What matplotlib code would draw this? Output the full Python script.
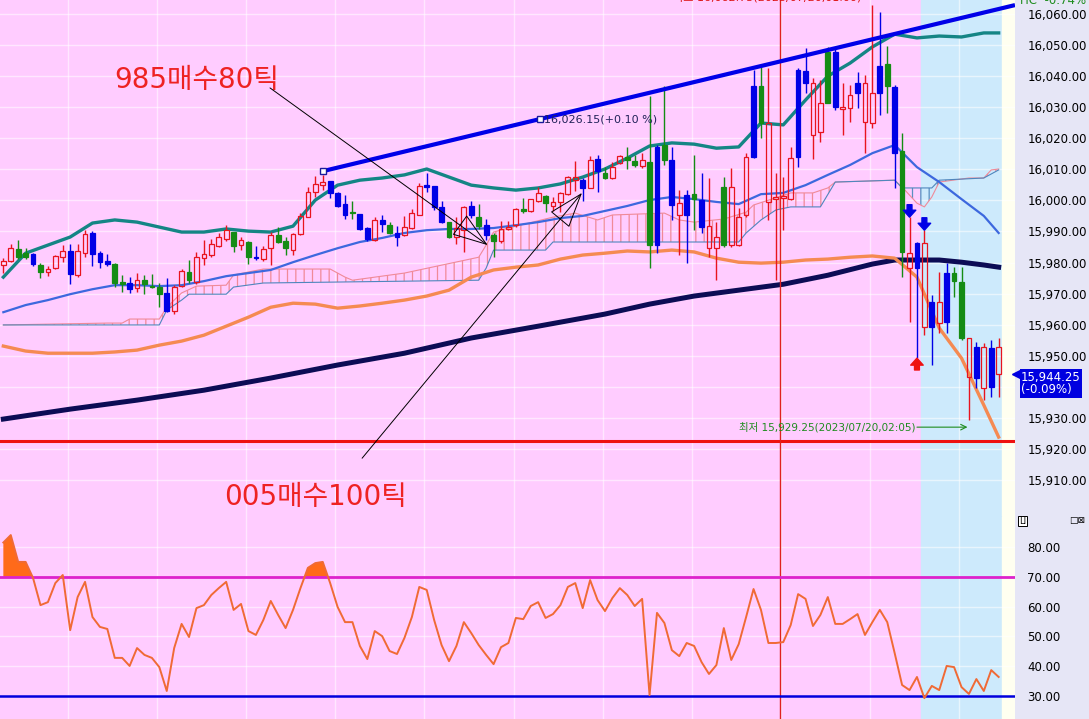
import matplotlib
matplotlib.use('Agg')
import matplotlib.pyplot as plt
from matplotlib.transforms import blended_transform_factory
import numpy as np

plt.rcParams['font.family'] = ['DejaVu Sans', 'Noto Sans CJK KR']
plt.rcParams['hatch.linewidth'] = 0.9

# ---- candles (o, h, l, c) ----
opens = [15979.2, 15980.5, 15984.3, 15983.0, 15982.7, 15979.2, 15976.9, 15978.2, 15981.7, 15983.7,
         15976.0, 15983.0, 15989.5, 15983.0, 15980.5, 15979.5, 15973.7, 15973.4, 15971.8, 15974.3,
         15972.4, 15972.1, 15970.2, 15964.4, 15972.4, 15976.9, 15973.7, 15981.4, 15982.4, 15985.3,
         15987.5, 15989.8, 15985.6, 15986.6, 15981.6, 15981.1, 15984.6, 15988.8, 15986.9, 15984.0,
         15989.2, 15994.6, 16002.7, 16004.9, 16006.2, 16002.4, 15998.8, 15996.2, 15995.6, 15991.1,
         15987.2, 15993.7, 15992.0, 15989.5, 15988.8, 15991.1, 15995.3, 16004.9, 16004.6, 15997.9,
         15993.0, 15988.2, 15990.4, 15998.2, 15994.6, 15992.0, 15988.8, 15986.9, 15990.8, 15992.0,
         15997.2, 15996.6, 15999.8, 16001.4, 15998.2, 15999.5, 16002.0, 16006.5, 16006.5, 16004.0,
         16013.3, 16008.8, 16007.2, 16012.0, 16014.0, 16012.7, 16011.0, 16012.3, 15985.6, 16017.8,
         16013.0, 15999.1, 15995.3, 16002.0, 16000.1, 15991.7, 15984.6, 15985.6, 16004.3, 15985.6,
         15995.3, 16014.0, 16036.8, 16024.9, 16000.6, 16000.9, 16000.4, 16014.0, 16041.6, 16037.8,
         16022.0, 16031.3, 16047.8, 16030.0, 16029.7, 16034.6, 16037.8, 16024.9, 16034.6, 16043.9,
         16036.5, 16015.9, 15983.0, 15978.2, 15986.3, 15959.2, 15967.3, 15960.8, 15976.6, 15973.7,
         15955.7, 15942.8, 15952.8, 15939.9, 15952.8]
highs = [15981.4, 15985.9, 15987.2, 15984.6, 15983.0, 15979.8, 15978.9, 15982.4, 15985.6, 15985.9,
         15985.9, 15990.4, 15990.1, 15983.7, 15982.7, 15979.8, 15976.0, 15975.3, 15976.6, 15976.0,
         15976.3, 15973.4, 15975.0, 15972.7, 15977.9, 15980.8, 15983.4, 15987.2, 15987.5, 15989.5,
         15992.0, 15989.8, 15988.2, 15986.9, 15985.3, 15985.3, 15989.8, 15991.4, 15988.2, 15989.5,
         15995.9, 16004.3, 16007.8, 16008.1, 16006.2, 16002.7, 16001.7, 15999.8, 15995.6, 15991.4,
         15994.6, 15995.3, 15993.0, 15991.7, 15995.0, 15997.2, 16005.6, 16008.8, 16004.6, 15999.8,
         15993.0, 15994.6, 15998.2, 15999.8, 15998.8, 15994.0, 15989.5, 15993.3, 15993.3, 15997.5,
         16000.7, 16000.4, 16004.3, 16001.7, 16001.1, 16002.7, 16007.8, 16012.7, 16007.2, 16014.3,
         16014.6, 16010.7, 16012.3, 16014.6, 16017.2, 16014.6, 16015.2, 16033.6, 16017.8, 16036.8,
         16017.2, 16003.3, 16003.3, 16014.6, 16008.8, 16007.2, 15993.0, 16007.5, 16010.4, 15997.5,
         16015.2, 16042.0, 16042.9, 16042.6, 16008.8, 16007.5, 16017.2, 16042.6, 16049.0, 16039.4,
         16038.7, 16049.4, 16049.4, 16037.8, 16037.1, 16041.3, 16040.4, 16062.75, 16060.6, 16049.7,
         16037.1, 16021.7, 15994.6, 15986.6, 15990.4, 15969.5, 15976.9, 15979.8, 15978.5, 15978.5,
         15955.7, 15954.4, 15954.1, 15955.0, 15955.7]
lows = [15976.6, 15980.1, 15981.1, 15981.1, 15978.9, 15975.0, 15975.6, 15977.9, 15980.1, 15973.0,
        15975.3, 15981.7, 15978.9, 15978.2, 15978.9, 15972.1, 15970.5, 15970.2, 15970.5, 15969.8,
        15971.8, 15965.6, 15964.0, 15963.4, 15972.1, 15973.4, 15973.0, 15979.2, 15981.7, 15985.0,
        15986.9, 15983.4, 15984.0, 15979.5, 15980.8, 15980.5, 15979.2, 15986.3, 15982.4, 15982.4,
        15988.8, 15994.6, 16001.1, 16003.3, 16000.7, 15997.9, 15994.0, 15994.0, 15990.4, 15986.9,
        15986.9, 15989.8, 15989.2, 15985.3, 15988.5, 15990.8, 15995.3, 16002.7, 15996.9, 15992.7,
        15987.9, 15985.9, 15983.4, 15994.3, 15990.8, 15987.2, 15981.7, 15986.3, 15990.4, 15991.4,
        15995.9, 15996.2, 15999.5, 15996.2, 15996.6, 15996.2, 16001.7, 16003.0, 15999.8, 16004.0,
        16002.7, 16006.9, 16006.9, 16011.7, 16010.1, 16010.7, 16010.4, 15978.2, 15983.0, 16011.4,
        15993.7, 15982.4, 15979.8, 15990.4, 15989.5, 15981.7, 15974.3, 15985.0, 15985.0, 15985.3,
        15994.6, 16013.6, 16020.1, 15993.7, 15974.3, 15990.4, 16000.1, 16010.7, 16034.6, 16013.3,
        16018.8, 16031.3, 16029.1, 16021.0, 16025.2, 16029.7, 16015.2, 16023.3, 16027.5, 16028.1,
        16004.0, 15975.3, 15960.8, 15949.2, 15956.6, 15947.0, 15957.3, 15957.3, 15968.9, 15955.0,
        15929.25, 15939.6, 15935.7, 15936.7, 15936.7]
closes = [15980.5, 15984.6, 15981.7, 15981.7, 15979.5, 15976.9, 15977.9, 15982.1, 15983.7, 15976.3,
          15983.7, 15989.2, 15982.7, 15980.1, 15979.5, 15973.4, 15973.0, 15971.4, 15974.3, 15973.0,
          15972.1, 15969.8, 15964.4, 15972.1, 15977.2, 15974.3, 15981.7, 15982.7, 15985.9, 15988.2,
          15990.4, 15985.3, 15987.2, 15981.7, 15981.3, 15984.3, 15988.8, 15986.6, 15984.6, 15989.2,
          15994.9, 16002.7, 16005.3, 16005.9, 16002.4, 15998.2, 15995.3, 15995.9, 15990.8, 15987.5,
          15993.7, 15992.4, 15989.5, 15988.2, 15991.4, 15995.9, 16004.6, 16004.3, 15997.9, 15993.0,
          15988.2, 15991.1, 15997.9, 15995.3, 15991.7, 15988.8, 15986.9, 15990.8, 15991.4, 15997.2,
          15996.6, 16000.4, 16002.4, 15999.1, 15999.5, 16002.4, 16007.5, 16007.5, 16004.0, 16013.0,
          16009.4, 16007.2, 16010.7, 16014.3, 16013.0, 16011.4, 16013.0, 15985.6, 16017.2, 16013.0,
          15998.5, 15995.3, 16001.7, 16000.4, 15991.4, 15984.6, 15988.2, 16004.3, 15985.6, 15994.6,
          16014.0, 16036.8, 16024.9, 15999.5, 16001.0, 16001.3, 16013.6, 16042.0, 16037.8, 16021.0,
          16031.3, 16047.8, 16030.0, 16029.4, 16033.9, 16037.8, 16025.2, 16034.6, 16043.2, 16036.8,
          16015.2, 15983.4, 15978.2, 15986.3, 15959.2, 15967.3, 15960.5, 15976.6, 15974.0, 15955.7,
          15943.1, 15952.8, 15939.6, 15952.4, 15944.25]
kinds = list("rrggbgrrrbrrbbbggbrgggbrrgrrrrrgrgbrrggrrrrrbbbgbbrbgbrrrbbbgrrbgbgrrrgrrgrrrrbrbgrrggrgbgbrbgbrrgrrrbgrrrrbbrrgbrrbrrbgbgrbrbrbggrbrb")

# ---- overlays (sampled at candle indices) ----
band_idx = list(range(0, 133, 3)) + [134]
bb_upper = [15975.3, 15983.0, 15985.6, 15988.2, 15992.7, 15993.7, 15993.0, 15991.4, 15989.8, 15989.8,
            15990.8, 15990.1, 15989.8, 15991.7, 16000.1, 16004.9, 16006.5, 16007.2, 16008.2, 16010.1,
            16007.5, 16004.9, 16004.0, 16003.3, 16004.0, 16005.3, 16007.5, 16010.1, 16013.6, 16017.5,
            16018.5, 16018.1, 16016.8, 16017.2, 16024.9, 16024.3, 16032.3, 16040.0, 16044.2, 16049.4,
            16053.5, 16052.3, 16052.9, 16052.6, 16053.9, 16053.9]
bb_mid = [15964.0, 15966.3, 15967.9, 15969.8, 15971.4, 15972.7, 15972.7, 15972.4, 15972.7, 15974.0,
          15975.6, 15976.6, 15977.6, 15980.1, 15982.4, 15984.6, 15986.6, 15987.9, 15989.5, 15990.4,
          15990.8, 15990.8, 15991.1, 15992.0, 15993.0, 15994.3, 15995.0, 15996.6, 15998.2, 16000.1,
          16001.1, 16000.4, 15999.5, 15998.8, 16002.0, 16002.4, 16004.9, 16008.2, 16011.4, 16015.2,
          16017.8, 16010.7, 16005.9, 16000.4, 15995.0, 15989.5]
bb_lower = [15953.1, 15951.5, 15950.8, 15950.8, 15950.8, 15951.2, 15951.8, 15953.4, 15954.7, 15956.6,
            15959.5, 15962.4, 15965.6, 15966.9, 15966.6, 15965.3, 15966.0, 15966.9, 15967.9, 15969.2,
            15971.1, 15975.3, 15977.6, 15978.5, 15979.2, 15981.1, 15982.4, 15983.0, 15983.7, 15983.4,
            15984.0, 15983.4, 15981.4, 15980.1, 15979.8, 15980.1, 15980.8, 15981.1, 15981.7, 15982.1,
            15981.4, 15975.3, 15958.9, 15949.2, 15934.1, 15923.8]
ma_idx = [0, 9, 18, 27, 36, 45, 54, 63, 72, 81, 87, 93, 99, 105, 111, 117, 120, 123, 126, 129, 132, 134]
ma_long = [15929.6, 15932.8, 15935.7, 15938.9, 15942.8, 15947.0, 15950.8, 15955.7, 15959.5, 15963.4,
           15966.6, 15969.2, 15971.1, 15973.0, 15975.9, 15979.5, 15980.8, 15980.8, 15980.8, 15980.1,
           15979.2, 15978.5]
span_a_idx = [0, 14, 16, 17, 21, 22, 24, 26, 30, 31, 35, 44, 46, 47, 54, 64, 65, 66, 68, 74, 77, 80,
              82, 89, 91, 93, 97, 100, 101, 106, 109, 111, 112, 120, 121, 123, 124, 125, 126, 130,
              132, 133, 134]
span_a = [15959.9, 15960.5, 15960.5, 15961.8, 15961.8, 15965.6, 15970.2, 15972.4, 15972.7, 15976.0,
          15977.9, 15977.9, 15975.3, 15974.3, 15976.6, 15981.7, 15985.6, 15989.8, 15991.1, 15994.6,
          15995.9, 15993.7, 15995.3, 15995.9, 15993.7, 15993.0, 15994.0, 15996.2, 15998.5, 16002.4,
          16002.4, 16004.0, 16005.9, 16006.5, 16004.3, 15999.1, 15997.9, 16001.1, 16005.9, 16007.2,
          16007.2, 16009.8, 16010.1]
span_b_idx = [0, 21, 22, 24, 25, 30, 31, 35, 64, 65, 66, 73, 74, 99, 100, 102, 104, 106, 110, 112,
              120, 121, 125, 126, 132, 134]
span_b = [15959.9, 15959.9, 15964.7, 15967.9, 15969.8, 15969.8, 15972.1, 15973.4, 15974.3, 15978.2,
          15984.0, 15984.0, 15986.6, 15986.6, 15989.5, 15993.7, 15996.9, 15997.9, 15997.9, 16005.9,
          16006.5, 16004.0, 16004.0, 16006.5, 16007.2, 16009.8]

rsi = [81.5, 84.0, 75.0, 75.0, 69.6, 60.5, 61.5, 67.9, 70.6, 52.1,
       63.2, 68.3, 56.5, 53.2, 52.5, 42.8, 42.8, 40.1, 46.1, 43.8,
       42.8, 39.7, 31.7, 46.1, 54.2, 49.8, 59.5, 60.5, 63.9, 66.2,
       68.3, 58.9, 60.9, 51.8, 50.5, 55.5, 61.9, 57.2, 52.8, 58.9,
       66.2, 73.0, 74.6, 75.0, 67.9, 59.9, 54.8, 54.8, 46.8, 42.4,
       51.8, 50.1, 45.1, 44.1, 49.5, 56.5, 66.6, 65.6, 55.5, 47.1,
       41.7, 46.8, 54.8, 51.1, 47.1, 43.8, 40.7, 46.4, 47.8, 56.2,
       55.8, 60.2, 61.5, 56.2, 57.5, 60.5, 66.6, 67.9, 59.5, 68.9,
       62.2, 58.5, 62.9, 66.2, 63.9, 60.2, 62.6, 30.3, 57.9, 54.5,
       45.4, 43.4, 47.8, 46.8, 41.4, 37.4, 40.4, 52.8, 42.1, 47.4,
       56.5, 65.9, 58.9, 47.8, 47.8, 48.1, 53.8, 64.2, 62.6, 53.5,
       57.2, 63.2, 54.2, 54.2, 55.8, 57.5, 50.5, 54.8, 58.9, 54.8,
       44.4, 33.7, 32.0, 36.4, 29.3, 33.4, 32.0, 40.1, 39.7, 33.0,
       30.7, 35.7, 31.7, 38.7, 36.4]

trend_pts = [(43, 16009.4), (72.2, 16026.15)]
trend_label = "16,026.15(+0.10 %)"
support = 15922.5
sell_signals = [122, 124]
buy_signals = [123]
price_ticks = [15910, 15920, 15930, 15950, 15960, 15970, 15980, 15990, 16000,
               16010, 16020, 16030, 16040, 16050, 16060]
rsi_ticks = [30, 40, 50, 60, 70, 80]
last_pct = "(-0.09%)"
hc_text = "HC  -0.74%"
high_text = "최고 16,062.75(2023/07/20,01:00) →"
low_text = "최저 15,929.25(2023/07/20,02:05)"

# ---- layout ----
W, H = 1089, 719
split = 516
fig = plt.figure(figsize=(W / 100, H / 100), dpi=100, facecolor='#e6e6f6')
ax = fig.add_axes([0, 1 - split / H, 1015 / W, split / H])
ax2 = fig.add_axes([0, 0, 1015 / W, 1 - split / H])

xl = (-0.45, 136.2)
for a in (ax, ax2):
    a.set_xlim(*xl)
    a.set_facecolor('#ffccff')
    a.axvspan(123.5, 134.5, color='#cdeafc', zorder=0)
    a.axvspan(134.5, xl[1], color='#fffff0', zorder=0)
    for g in np.arange(8.7, 136, 12):
        a.axvline(g, color='white', alpha=0.55, lw=1, zorder=0.5)
    for s in a.spines.values():
        s.set_visible(False)
    a.set_xticks([])
    a.yaxis.tick_right()
    a.tick_params(axis='y', length=0, pad=9, labelsize=8.5)

ax.set_ylim(15898.4, 16064.5)
ax2.set_ylim(22.3, 90.4)
for v in range(15910, 16061, 10):
    ax.axhline(v, color='white', alpha=0.55, lw=1, zorder=0.5)
for v in [40, 50, 60, 80]:
    ax2.axhline(v, color='white', alpha=0.55, lw=1, zorder=0.5)
ax.set_yticks(price_ticks)
ax.set_yticklabels([f"{v:,.2f}" for v in price_ticks])
ax2.set_yticks(rsi_ticks)
ax2.set_yticklabels([f"{v:.2f}" for v in rsi_ticks])

# ichimoku cloud
g = np.linspace(0, 134, 1200)
ga = np.interp(g, span_a_idx, span_a)
gb = np.interp(g, span_b_idx, span_b)
ax.fill_between(g, ga, gb, where=ga >= gb, facecolor='none', edgecolor='#f08a98',
                hatch='||', linewidth=0, zorder=1)
ax.fill_between(g, ga, gb, where=ga < gb, facecolor='none', edgecolor='#5a8fc0',
                hatch='||', linewidth=0, zorder=1)
ax.plot(span_a_idx, span_a, color='#f08a98', lw=0.8, zorder=1.2)
ax.plot(span_b_idx, span_b, color='#4f86bd', lw=0.8, zorder=1.2)

# bands and averages
ax.plot(ma_idx, ma_long, color='#0c0c55', lw=3.6, zorder=2)
ax.plot(band_idx, bb_lower, color='#f58a52', lw=2.4, zorder=2)
ax.plot(band_idx, bb_mid, color='#3d68de', lw=1.6, zorder=2)
ax.plot(band_idx, bb_upper, color='#148585', lw=2.4, zorder=2)

# support line and session marker
ax.axhline(support, color='#ee1111', lw=2.2, zorder=2)
for a in (ax, ax2):
    a.axvline(104.6, color='#e02020', lw=1, zorder=2.5)

# candles
o = np.array(opens); h = np.array(highs); l = np.array(lows); c = np.array(closes)
idx = np.arange(len(o))
cmap = {'r': '#e8141e', 'b': '#0000e6', 'g': '#148c14'}
ec = [cmap[k] for k in kinds]
fc = ['none' if k == 'r' else cmap[k] for k in kinds]
top = np.maximum(o, c)
bot = np.minimum(o, c)
ax.vlines(idx, top, h, colors=ec, lw=1, zorder=3)
ax.vlines(idx, l, bot, colors=ec, lw=1, zorder=3)
ax.bar(idx, np.maximum(top - bot, 0.35), bottom=bot, width=0.64, color=fc,
       edgecolor=ec, linewidth=0.9, zorder=3.2)

# trend line
(x0, y0), (x1, y1) = trend_pts
slope = (y1 - y0) / (x1 - x0)
ax.plot([x0, xl[1]], [y0, y0 + slope * (xl[1] - x0)], color='#0000e8', lw=3, zorder=4,
        solid_capstyle='butt')
ax.plot([x0, x1], [y0, y1], 's', mfc='white', mec='#1a1a9a', ms=5, mew=1, zorder=4.5)
ax.text(x1 + 0.6, y1, trend_label, fontsize=8, color='#22225a', va='center', zorder=5)

# signal arrows
for i in sell_signals:
    ax.annotate('', xy=(i, h[i]), xytext=(i, h[i] + 4.0),
                arrowprops=dict(arrowstyle='simple,head_length=0.5,head_width=0.9,tail_width=0.35',
                                color='#0000e6', mutation_scale=10, shrinkA=0, shrinkB=0), zorder=5)
for i in buy_signals:
    ax.annotate('', xy=(i, l[i]), xytext=(i, l[i] - 3.8),
                arrowprops=dict(arrowstyle='simple,head_length=0.5,head_width=0.9,tail_width=0.35',
                                color='#ee1111', mutation_scale=10, shrinkA=0, shrinkB=0), zorder=5)

# high / low notes
imax = int(np.argmax(h)); imin = int(np.argmin(l))
ax.text(imax + 0.2, 16065.4, high_text, fontsize=8, color='#dd1111', ha='right', va='center',
        clip_on=True)
ax.text(imin - 7.2, 15927.0, low_text, fontsize=7.5, color='#1e8c1e', ha='right', va='center')
ax.annotate('', xy=(imin - 0.2, 15927.0), xytext=(imin - 7.0, 15927.0),
            arrowprops=dict(arrowstyle='->', color='#1e8c1e', lw=0.8, shrinkA=0, shrinkB=0))

# hand-drawn notes
ax.text(26.0, 16038.7, "985매수80틱", fontsize=20, color='#ee2222', ha='center', va='center')
ax.text(42.0, 15904.5, "005매수100틱", fontsize=20, color='#ee2222', ha='center', va='center')
ax.annotate('', xy=(65.2, 15985.6), xytext=(35.9, 16036.2),
            arrowprops=dict(arrowstyle='-|>,head_length=1.3,head_width=0.45', lw=0.7,
                            edgecolor='black', facecolor='none', mutation_scale=18,
                            shrinkA=0, shrinkB=0), zorder=6)
ax.annotate('', xy=(77.9, 16002.4), xytext=(48.3, 15917.0),
            arrowprops=dict(arrowstyle='-|>,head_length=1.3,head_width=0.45', lw=0.7,
                            edgecolor='black', facecolor='none', mutation_scale=18,
                            shrinkA=0, shrinkB=0), zorder=6)

# last price box
tr = blended_transform_factory(ax.transAxes, ax.transData)
ax.text(1.006, c[-1] + 0.9, f"{c[-1]:,.2f}\n{last_pct}", transform=tr, fontsize=8.5,
        color='white', ha='left', va='top', linespacing=0.95, clip_on=False, zorder=10,
        bbox=dict(boxstyle='square,pad=0.12', fc='#0000e0', ec='none'))
ax.plot([1.001], [c[-1]], marker='<', color='#0000e0', ms=6, transform=tr, clip_on=False, zorder=10)
fig.text(1020 / W, 1 - 1 / H, hc_text, fontsize=8.5, color='#1e8c1e', ha='left', va='center')

# RSI panel
r = np.array(rsi)
ax2.fill_between(idx, r, 70, where=r >= 70, interpolate=True, color='#ff6a1a', lw=0, zorder=2)
ax2.plot(idx, r, color='#f06a35', lw=1.4, zorder=3)
ax2.axhline(70, color='#dd22cc', lw=2, zorder=2.6)
ax2.axhline(30, color='#0000dd', lw=1.8, zorder=2.6)

fig.text(1019 / W, 1 - 521 / H, 'LI', fontsize=6, va='center',
         bbox=dict(boxstyle='square,pad=0.1', fc='white', ec='black', lw=0.7))
fig.text(1069 / W, 1 - 521 / H, '□⊠', fontsize=6.5, va='center')

fig.savefig('out.png', dpi=100, facecolor=fig.get_facecolor())
